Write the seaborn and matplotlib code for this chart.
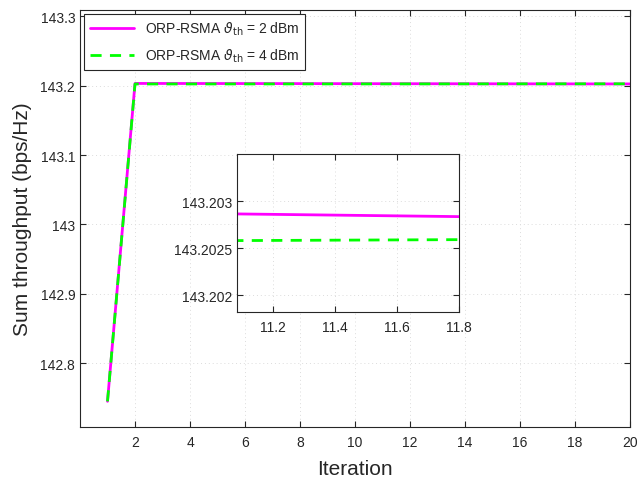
import numpy as np
import pandas as pd
import matplotlib
matplotlib.use("Agg")
import matplotlib.pyplot as plt
from matplotlib.ticker import FuncFormatter
import seaborn as sns

iterations = list(range(1, 21))
rsma_2dbm = [142.745, 143.20323, 143.20319, 143.20315, 143.20311, 143.20307, 143.20303,
             143.20299, 143.20295, 143.20291, 143.202866, 143.202826, 143.20279, 143.20275,
             143.20271, 143.20267, 143.20263, 143.20259, 143.20255, 143.20251]
rsma_4dbm = [142.745, 143.202452, 143.202466, 143.20248, 143.202494, 143.202508, 143.202522,
             143.202536, 143.20255, 143.202564, 143.202578, 143.202592, 143.202606, 143.20262,
             143.202634, 143.202648, 143.202662, 143.202676, 143.20269, 143.202704]
labels = [r"ORP-RSMA $\vartheta_{\rm th}$ = 2 dBm", r"ORP-RSMA $\vartheta_{\rm th}$ = 4 dBm"]

df = pd.DataFrame({
    "Iteration": iterations * 2,
    "Throughput": rsma_2dbm + rsma_4dbm,
    "Scheme": [labels[0]] * len(iterations) + [labels[1]] * len(iterations),
})

sns.set_theme(style="white")
plt.rcParams["font.family"] = ["Liberation Sans", "DejaVu Sans"]
plt.rcParams["mathtext.fontset"] = "dejavusans"

palette = {labels[0]: "#ff00ff", labels[1]: "#00ff00"}
dashes = {labels[0]: "", labels[1]: (4, 3)}

fig = plt.figure(figsize=(6.38, 4.81), dpi=100)
ax = fig.add_axes([0.1254, 0.1102, 0.8621, 0.8668])

def fmt(v, pos):
    s = f"{v:.4f}".rstrip("0").rstrip(".")
    return s

def style_axes(a, fs):
    a.set_facecolor("white")
    for sp in a.spines.values():
        sp.set_visible(True)
        sp.set_color("#262626")
        sp.set_linewidth(0.8)
    a.tick_params(direction="in", length=4, width=0.8, colors="#262626",
                  labelsize=fs, top=True, right=True, bottom=True, left=True,
                  labelcolor="#262626")
    a.tick_params(axis="x", pad=6)
    a.grid(True, linestyle=(0, (1, 3)), color="#dcdcdc", linewidth=0.7)
    a.yaxis.set_major_formatter(FuncFormatter(fmt))
    a.xaxis.set_major_formatter(FuncFormatter(fmt))

sns.lineplot(data=df, x="Iteration", y="Throughput", hue="Scheme", style="Scheme",
             palette=palette, dashes=dashes, linewidth=2, ax=ax)
ax.set_xlim(0, 20)
ax.set_ylim(142.708, 143.309)
ax.set_xticks(np.arange(2, 21, 2))
ax.set_yticks([142.8, 142.9, 143.0, 143.1, 143.2, 143.3])
style_axes(ax, 10)
ax.set_xlabel("Iteration", fontsize=15, color="#262626", labelpad=7)
ax.set_ylabel("Sum throughput (bps/Hz)", fontsize=15, color="#262626", labelpad=6)
leg = ax.legend(loc="upper left", fontsize=10, frameon=True, fancybox=False,
                edgecolor="#262626", framealpha=1, borderaxespad=0.3, handlelength=3.2,
                labelspacing=0.7)
leg.get_frame().set_linewidth(0.8)

axin = fig.add_axes([0.3715, 0.3493, 0.348, 0.3285])
sns.lineplot(data=df, x="Iteration", y="Throughput", hue="Scheme", style="Scheme",
             palette=palette, dashes=dashes, linewidth=2, ax=axin, legend=False)
axin.set_xlim(11.084, 11.8)
axin.set_ylim(143.20182, 143.2035)
axin.set_xticks([11.2, 11.4, 11.6, 11.8])
axin.set_yticks([143.202, 143.2025, 143.203])
style_axes(axin, 10)
axin.set_xlabel("")
axin.set_ylabel("")

fig.savefig("out.png", dpi=100)
